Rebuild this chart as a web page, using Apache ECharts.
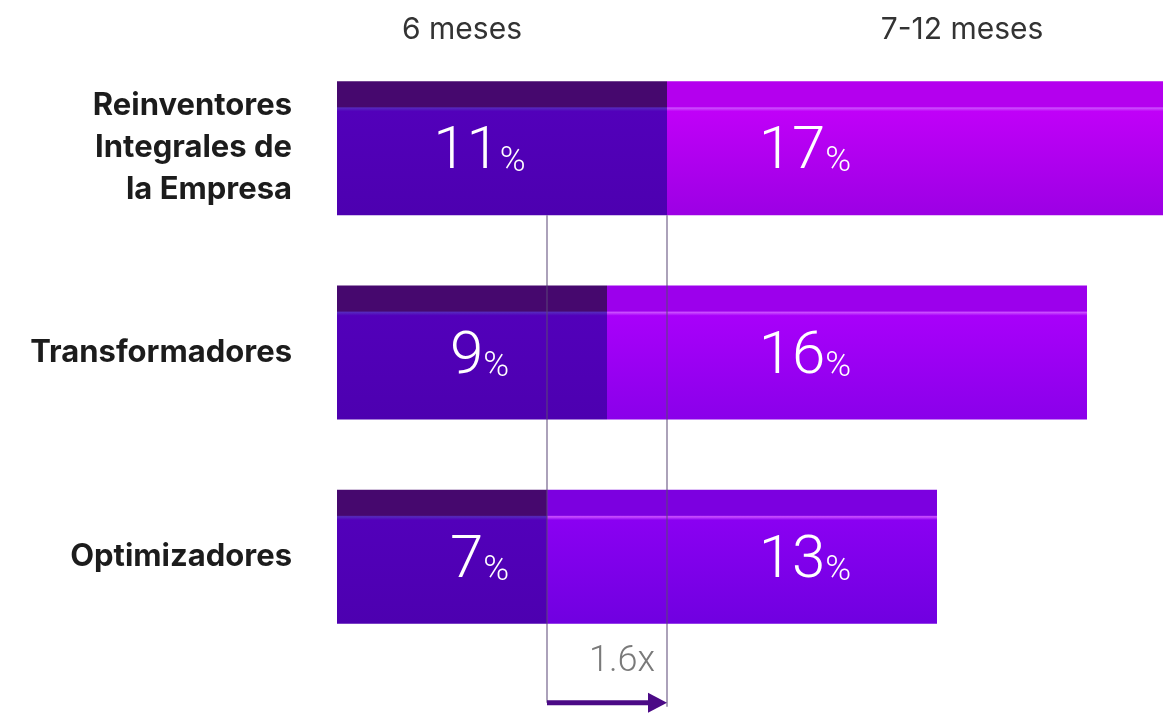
<!DOCTYPE html>
<html>
<head>
<meta charset="utf-8">
<style>
html, body { margin: 0; padding: 0; background: #fff; }
#chart { width: 1163px; height: 714px; }
</style>
<script src="https://cdn.jsdelivr.net/npm/echarts@6/dist/echarts.min.js"></script>
</head>
<body>
<div id="chart"></div>
<script>
const categories = ["Reinventores\nIntegrales de\nla Empresa", "Transformadores", "Optimizadores"];
const periods = ["6 meses", "7-12 meses"];
const sixMonths = [11, 9, 7];
const sevenToTwelve = [17, 16, 13];

const BAR_WIDTH = 134;
const LABEL_COLS = [4.75, 15.6]; // where the value labels sit, in axis units
const HEADER_X = [462, 962];
// second segment tone changes a bit per row
const secondTones = [
	["#b400ee", "#c000f8", "#9c00e4"],
	["#9c00ec", "#a800fa", "#8a00ea"],
	["#7c00e0", "#8a00f2", "#7000e0"],
];

const firstColor = new echarts.graphic.LinearGradient(0, 0, 0, 1, [
	{ offset: 0, color: "#46086e" },
	{ offset: 0.19, color: "#46086e" },
	{ offset: 0.2, color: "#5628be" },
	{ offset: 0.225, color: "#5200ba" },
	{ offset: 1, color: "#4d00b0" },
]);

const secondColor = (tones) =>
	new echarts.graphic.LinearGradient(0, 0, 0, 1, [
		{ offset: 0, color: tones[0] },
		{ offset: 0.19, color: tones[0] },
		{ offset: 0.2, color: "#cc50ff" },
		{ offset: 0.225, color: tones[1] },
		{ offset: 1, color: tones[2] },
	]);

const valueLabel = {
	show: true,
	position: "inside",
	offset: [0, 5],
	color: "#fff",
	formatter: (p) => "{n|" + p.value[2] + "}{p|%}",
	rich: {
		n: { fontSize: 60, fontWeight: 300, fontFamily: "Roboto", color: "#fff", lineHeight: 70 },
		p: {
			fontSize: 35,
			fontWeight: 300,
			fontFamily: "Roboto",
			color: "#fff",
			verticalAlign: "bottom",
			padding: [0, 0, 8, 0],
		},
	},
};

const chart = echarts.init(document.getElementById("chart"), null, { renderer: "canvas" });

const option = {
	animation: false,
	grid: { left: 337, width: 840, top: 46, bottom: 55, outerBoundsMode: "none" },
	xAxis: {
		type: "value",
		min: 0,
		max: 28,
		show: false,
	},
	yAxis: {
		type: "category",
		inverse: true,
		data: categories,
		axisLine: { show: false },
		axisTick: { show: false },
		axisLabel: {
			margin: 45,
			fontSize: 31,
			fontWeight: "bold",
			fontFamily: "Inter",
			color: "#1c1c1c",
			lineHeight: 42,
			align: "right",
			padding: [4, 0, 0, 0],
		},
	},
	graphic: periods.map((t, i) => ({
		type: "text",
		x: HEADER_X[i],
		y: 30,
		style: {
			text: t,
			fontSize: 30,
			fontFamily: "Inter",
			fill: "#333",
			align: "center",
			verticalAlign: "middle",
		},
	})),
	series: [
		{
			name: periods[0],
			type: "bar",
			stack: "total",
			barWidth: BAR_WIDTH,
			data: sixMonths.map((v) => ({ value: v, itemStyle: { color: firstColor } })),
		},
		{
			name: periods[1],
			type: "bar",
			stack: "total",
			barWidth: BAR_WIDTH,
			data: sevenToTwelve.map((v, i) => ({ value: v, itemStyle: { color: secondColor(secondTones[i]) } })),
		},
		{
			type: "scatter",
			symbolSize: 0,
			z: 5,
			itemStyle: { opacity: 1 },
			label: valueLabel,
			data: sixMonths.map((v, i) => [LABEL_COLS[0], i, v]),
		},
		{
			type: "scatter",
			symbolSize: 0,
			z: 5,
			itemStyle: { opacity: 1 },
			label: valueLabel,
			data: sevenToTwelve.map((v, i) => [LABEL_COLS[1], i, v]),
		},
		{
			// bracket comparing Optimizadores vs Reinventores at 6 meses
			type: "custom",
			z: 4,
			encode: { x: [0, 1], y: 2 },
			data: [[sixMonths[2], sixMonths[0], 0]],
			renderItem: (params, api) => {
				const x1 = api.coord([api.value(0), 0])[0];
				const x2 = api.coord([api.value(1), 0])[0];
				const yTop = api.coord([0, 0])[1] + BAR_WIDTH / 2;
				const yArrow = api.coord([0, categories.length - 1])[1] + 146;
				const ratio = (api.value(1) / api.value(0)).toFixed(1) + "x";
				const lineStyle = { stroke: "rgba(90,70,120,0.85)", lineWidth: 1.2 };
				return {
					type: "group",
					children: [
						{ type: "line", shape: { x1: x1, y1: yTop, x2: x1, y2: yArrow }, style: lineStyle },
						{ type: "line", shape: { x1: x2, y1: yTop, x2: x2, y2: yArrow + 4 }, style: lineStyle },
						{
							type: "line",
							shape: { x1: x1, y1: yArrow, x2: x2 - 16, y2: yArrow },
							style: { stroke: "#4b0a86", lineWidth: 5 },
						},
						{
							type: "polygon",
							shape: { points: [[x2 - 19, yArrow - 10], [x2, yArrow], [x2 - 19, yArrow + 10]] },
							style: { fill: "#4b0a86" },
						},
						{
							type: "text",
							x: (x1 + x2) / 2 + 15,
							y: yArrow - 41,
							style: {
								text: ratio,
								fontSize: 36,
								fontWeight: 300,
								fontFamily: "Roboto",
								fill: "#7a7a7a",
								align: "center",
								verticalAlign: "middle",
							},
						},
					],
				};
			},
		},
	],
};

chart.setOption(option);
</script>
</body>
</html>
